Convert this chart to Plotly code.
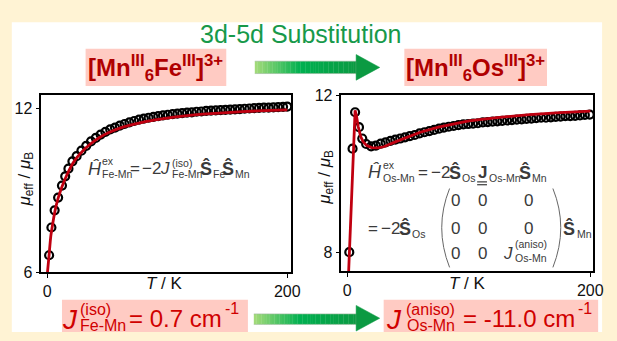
import plotly.graph_objects as go

W, H = 617, 341
FONT = "Liberation Sans, Arial, sans-serif"

# ---- [Mn(III)6Fe(III)]3+ : measured mu_eff and fit ----
t_fe = [1.6, 3.5, 6.2, 9.1, 12.3, 15.0, 17.7, 21.0, 24.5, 28.5, 32.5, 36.5, 40.5, 44.5,
        48.5, 52.5, 56.5, 60.5, 64.5, 68.5, 72.5, 76.5, 80.5, 84.5, 88.5, 92.5, 96.5,
        100.5, 104.5, 108.5, 112.5, 116.5, 120.5, 124.5, 128.5, 132.5, 136.5, 140.5,
        144.5, 148.5, 152.5, 156.5, 160.5, 164.5, 168.5, 172.5, 176.5, 180.5, 184.5,
        188.5, 192.5, 196.5, 200.0]
mu_fe = [6.62, 7.64, 8.27, 8.74, 9.18, 9.52, 9.80, 10.07, 10.26, 10.46, 10.64, 10.80,
         10.93, 11.05, 11.15, 11.24, 11.31, 11.38, 11.44, 11.50, 11.55, 11.60, 11.64,
         11.67, 11.70, 11.73, 11.76, 11.78, 11.80, 11.82, 11.84, 11.86, 11.87, 11.89,
         11.90, 11.92, 11.93, 11.94, 11.95, 11.96, 11.97, 11.98, 11.99, 12.00, 12.01,
         12.02, 12.03, 12.04, 12.04, 12.05, 12.06, 12.07, 12.08]
t_fe_fit = [0.25, 1.45, 3.0, 4.5, 6.5, 9, 12, 15, 18, 21, 25, 30, 35, 40, 45, 50, 60,
            70, 80, 90, 100, 115, 130, 150, 175, 200]
mu_fe_fit = [6.00, 6.57, 7.32, 7.75, 8.25, 8.70, 9.10, 9.43, 9.72, 9.97, 10.22, 10.47,
             10.67, 10.84, 10.98, 11.10, 11.28, 11.41, 11.51, 11.59, 11.66, 11.74,
             11.80, 11.86, 11.92, 11.96]

# ---- [Mn(III)6Os(III)]3+ : measured mu_eff and fit ----
t_os = [1.6, 4.3, 6.4, 9.6, 12.3, 15.5, 19.6, 23.5, 27.5, 31.5, 35.5, 39.5, 43.5, 47.5,
        51.5, 55.5, 59.5, 63.5, 67.5, 71.5, 75.5, 79.5, 83.5, 87.5, 91.5, 95.5, 99.5,
        103.5, 107.5, 111.5, 115.5, 119.5, 123.5, 127.5, 131.5, 135.5, 139.5, 143.5,
        147.5, 151.5, 155.5, 159.5, 163.5, 167.5, 171.5, 175.5, 179.5, 183.5, 187.5,
        191.5, 195.5, 199.5]
mu_os = [8.00, 10.64, 11.57, 11.19, 10.90, 10.76, 10.70, 10.72, 10.77, 10.80, 10.84,
         10.87, 10.90, 10.93, 10.96, 10.99, 11.03, 11.06, 11.09, 11.12, 11.15, 11.18,
         11.20, 11.22, 11.24, 11.26, 11.27, 11.28, 11.29, 11.31, 11.32, 11.33, 11.34,
         11.35, 11.36, 11.37, 11.38, 11.39, 11.40, 11.41, 11.42, 11.43, 11.43, 11.44,
         11.45, 11.46, 11.47, 11.47, 11.48, 11.49, 11.50, 11.51]
t_os_fit = [1.1, 1.6, 3.0, 4.3, 5.4, 6.4, 7.5, 9, 11, 13, 16, 20, 25, 30, 40, 50, 60,
            75, 100, 125, 150, 175, 200]
mu_os_fit = [7.52, 7.95, 9.15, 10.30, 11.00, 11.62, 11.48, 11.20, 10.95, 10.82, 10.72,
             10.67, 10.66, 10.69, 10.82, 10.95, 11.06, 11.19, 11.35, 11.44, 11.51,
             11.56, 11.60]

x_ticks = [0, 200]
y_ticks_fe = [6, 12]
y_ticks_os = [8, 12]

# colours
CREAM = "#FFF3D4"
PINK = "#FFCBC3"
DARKRED = "#B00000"
RED = "#D00000"
FIT = "#C00010"
GREEN = "#17994A"
GREY = "#3A3A3A"

SUB = 10.5   # size of sub/superscripts in the Hamiltonians
MAIN = 17    # size of the Hamiltonian body text


def fx(px):
    return px / W


def fy(py):
    return 1 - py / H


fig = go.Figure()

fig.add_trace(go.Scatter(x=t_fe, y=mu_fe, mode="markers", xaxis="x", yaxis="y",
                         marker=dict(symbol="circle-open", size=8, color="black",
                                     line=dict(width=2.2, color="black")),
                         showlegend=False))
fig.add_trace(go.Scatter(x=t_fe_fit, y=mu_fe_fit, mode="lines", xaxis="x", yaxis="y",
                         line=dict(color=FIT, width=2.8, shape="spline", smoothing=0.6),
                         showlegend=False))
fig.add_trace(go.Scatter(x=t_os, y=mu_os, mode="markers", xaxis="x2", yaxis="y2",
                         marker=dict(symbol="circle-open", size=8, color="black",
                                     line=dict(width=2.2, color="black")),
                         showlegend=False))
fig.add_trace(go.Scatter(x=t_os_fit, y=mu_os_fit, mode="lines", xaxis="x2", yaxis="y2",
                         line=dict(color=FIT, width=2.8),
                         showlegend=False))

axis_common = dict(showgrid=False, zeroline=False, showline=True, linecolor="black",
                   linewidth=1.5, mirror=True, ticks="outside", ticklen=4, tickwidth=1.2,
                   tickcolor="black", tickfont=dict(family=FONT, size=16, color="#111"))

fig.update_layout(
    width=W, height=H,
    margin=dict(l=0, r=0, t=0, b=0),
    paper_bgcolor=CREAM, plot_bgcolor="white",
    xaxis=dict(domain=[fx(42), fx(296)], range=[-4.9, 203.3], tickvals=x_ticks,
               anchor="y", **axis_common),
    yaxis=dict(domain=[fy(278), fy(92)], range=[6, 12.49], tickvals=y_ticks_fe,
               anchor="x", **axis_common),
    xaxis2=dict(domain=[fx(347), fx(603)], range=[-4.9, 202.4], tickvals=x_ticks,
                anchor="y2", **axis_common),
    yaxis2=dict(domain=[fy(277), fy(92)], range=[7.515, 12], tickvals=y_ticks_os,
                anchor="x2", **axis_common),
)

shapes = []
anns = []


def rect(x0, y0, x1, y1, color, layer="below"):
    shapes.append(dict(type="rect", xref="paper", yref="paper", x0=fx(x0), x1=fx(x1),
                       y0=fy(y1), y1=fy(y0), fillcolor=color, line=dict(width=0),
                       layer=layer))


def path(points, color, width=1.0, fill=None, layer="above", curve=False):
    if curve:
        (a, b), (c, d), (e, f) = points
        p = f"M {fx(a)},{fy(b)} Q {fx(c)},{fy(d)} {fx(e)},{fy(f)}"
    else:
        p = "M " + " L ".join(f"{fx(a)},{fy(b)}" for a, b in points)
        if fill:
            p += " Z"
    shapes.append(dict(type="path", xref="paper", yref="paper", path=p,
                       line=dict(color=color, width=width),
                       fillcolor=fill if fill else "rgba(0,0,0,0)", layer=layer))


def txt(s, x, y, size, color=GREY, xanchor="center", yanchor="middle", angle=0):
    anns.append(dict(text=s, x=fx(x), y=fy(y), xref="paper", yref="paper",
                     xanchor=xanchor, yanchor=yanchor, showarrow=False, textangle=angle,
                     borderpad=0, font=dict(family=FONT, size=size, color=color)))


def blend(c1, c2, f):
    a = [int(c1[i:i + 2], 16) for i in (1, 3, 5)]
    b = [int(c2[i:i + 2], 16) for i in (1, 3, 5)]
    return "#" + "".join(f"{round(a[k] + (b[k] - a[k]) * f):02x}" for k in range(3))


def arrow(x0, x1, xh, yb0, yb1, yh0, yh1):
    stops = [(0.0, "#A6DB7A"), (0.45, "#00B050"), (1.0, "#0B9A42")]
    n = 40
    step = (xh - x0) / n
    for i in range(n):
        f = (i + 0.5) / n
        for (p0, c0), (p1, c1) in zip(stops[:-1], stops[1:]):
            if p0 <= f <= p1:
                col = blend(c0, c1, (f - p0) / (p1 - p0))
                break
        rect(x0 + i * step, yb0, x0 + (i + 1) * step + 0.3, yb1, col)
    path([(x0, yb0), (xh, yb0), (xh, yb1), (x0, yb1)], "#9FB8A0", width=0.6,
         fill=None, layer="below")
    path([(xh, yh0), (x1, (yh0 + yh1) / 2), (xh, yh1)], "#0B9A42", width=0.5,
         fill="#0B9A42", layer="below")


# white panel
rect(12, 15, 612, 341, "white")

# header
txt("3d-5d Substitution", 306, 27, 25, GREEN)
rect(87, 43, 230, 82, PINK)
rect(411, 43, 556, 82, PINK)
txt("<b>[Mn<sup>III</sup><sub>6</sub>Fe<sup>III</sup>]<sup>3+</sup></b>", 158, 63, 24, DARKRED)
txt("<b>[Mn<sup>III</sup><sub>6</sub>Os<sup>III</sup>]<sup>3+</sup></b>", 483, 63, 24, DARKRED)
arrow(259, 386, 362, 56, 69, 49, 76)

# footer
rect(63, 307, 252, 341, PINK)
rect(390, 307, 608, 341, PINK)
arrow(258, 386, 362, 322, 333, 313, 340)
txt("<i>J</i>", 71, 328, 28, RED)
txt("(iso)", 80, 317, 16, RED, xanchor="left")
txt("Fe-Mn", 80, 334, 16, RED, xanchor="left")
txt("= 0.7 cm", 130, 327, 24, RED, xanchor="left")
txt("-1", 228, 316, 16, RED, xanchor="left")
txt("<i>J</i>", 400, 328, 28, RED)
txt("(aniso)", 412, 317, 16, RED, xanchor="left")
txt("Os-Mn", 413, 334, 16, RED, xanchor="left")
txt("= -11.0 cm", 470, 327, 24, RED, xanchor="left")
txt("-1", 587, 316, 16, RED, xanchor="left")

# axis titles
ylab = "<i>μ</i><sub>eff</sub> / <i>μ</i><sub>B</sub>"
txt(ylab, 26, 180, 17, "#111", angle=-90)
txt(ylab, 331, 178, 17, "#111", angle=-90)
txt("<i>T</i> / K", 167, 290, 17, "#111")
txt("<i>T</i> / K", 475, 290, 17, "#111")

# exchange Hamiltonian, Fe-Mn
ym = 169
ysup, ysub = 161, 175
txt("<i>Ĥ</i>", 97, ym, MAIN + 1)
txt("ex", 103, ysup, SUB, xanchor="left")
txt("Fe-Mn", 103, ysub, SUB, xanchor="left")
txt("=", 137, ym, MAIN)
txt("−", 149, ym, MAIN)
txt("2", 159, ym, MAIN)
txt("<i>J</i>", 168, ym, MAIN)
txt("(iso)", 174, 163, SUB, xanchor="left")
txt("Fe-Mn", 174, ysub, SUB, xanchor="left")
txt("<b>Ŝ</b>", 209, ym, MAIN + 1)
txt("Fe", 215, ysub, SUB, xanchor="left")
txt("<b>Ŝ</b>", 232, ym, MAIN + 1)
txt("Mn", 238, ysub, SUB, xanchor="left")

# exchange Hamiltonian, Os-Mn (tensor form)
y1 = 173
txt("<i>Ĥ</i>", 381, y1, MAIN + 1)
txt("ex", 388, 165, SUB, xanchor="left")
txt("Os-Mn", 388, 179, SUB, xanchor="left")
txt("=", 430, y1, MAIN)
txt("−", 443, y1, MAIN)
txt("2", 453, y1, MAIN)
txt("<b>Ŝ</b>", 463, y1, MAIN + 1)
txt("Os", 469, 179, SUB, xanchor="left")
txt("<b>J</b>", 490, y1, MAIN)
path([(485, 183), (495, 183)], GREY, width=1.2)
path([(485, 186), (495, 186)], GREY, width=1.2)
txt("Os-Mn", 496, 179, SUB, xanchor="left")
txt("<b>Ŝ</b>", 534, y1, MAIN + 1)
txt("Mn", 540, 179, SUB, xanchor="left")

y2 = 232
txt("=", 379, y2, MAIN)
txt("−", 392, y2, MAIN)
txt("2", 402, y2, MAIN)
txt("<b>Ŝ</b>", 412, y2, MAIN + 1)
txt("Os", 418, 238, SUB, xanchor="left")
path([(457, 190), (441, 231), (457, 273)], "#666", width=1.0, curve=True)
path([(562, 190), (578, 231), (562, 273)], "#666", width=1.0, curve=True)
for (cx, cy) in [(463, 203), (490, 203), (537, 203), (463, 232), (490, 232),
                 (537, 232), (463, 258), (490, 258)]:
    txt("0", cx, cy, MAIN)
txt("<i>J</i>", 516, 258, MAIN)
txt("(aniso)", 522, 248, SUB, xanchor="left")
txt("Os-Mn", 522, 263, SUB, xanchor="left")
txt("<b>Ŝ</b>", 578, y2, MAIN + 1)
txt("Mn", 585, 238, SUB, xanchor="left")

fig.update_layout(shapes=shapes, annotations=anns)
fig.write_html("out.html")
